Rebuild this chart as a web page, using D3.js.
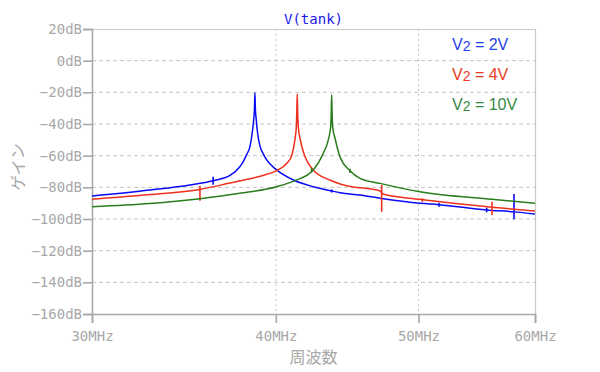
<!DOCTYPE html>
<html>
<head>
<meta charset="utf-8">
<script src="https://cdn.jsdelivr.net/npm/d3@7"></script>
<style>
  body { margin: 0; background: #fff; }
  svg { display: block; }
</style>
</head>
<body>
<svg id="chart" width="600" height="372"></svg>
<script>
// frequency (MHz) and gain (dB)
var blueData = [
  [30, -85.5], [32.85, -81.7], [34.97, -78.5], [36.26, -75.8], [37.23, -72.5],
  [37.81, -67], [38.01, -63.8], [38.20, -59.5], [38.41, -54.3], [38.57, -43.8],
  [38.64, -37], [38.68, -31], [38.71, -20.2], [38.74, -31], [38.79, -37],
  [38.85, -43.8], [39.02, -54], [39.23, -59], [39.43, -62.7], [40.05, -69],
  [41.11, -75.4], [42.41, -79.6], [43.65, -82.3], [44.22, -83.4], [45.63, -84.9],
  [47.08, -86.9], [50.12, -90.1], [51.63, -91], [55.63, -94.3], [58.06, -95.5],
  [60, -96.9]
];
var redData = [
  [30, -87.6], [32.85, -84.6], [35.52, -81.3], [37.23, -77.3],
  [38.41, -74.6], [39.20, -72.5], [40.05, -69.4], [40.72, -64.5], [41.00, -60],
  [41.20, -50.5], [41.30, -42], [41.33, -33], [41.36, -21], [41.39, -33],
  [41.43, -42], [41.54, -49], [41.87, -60.7], [42.41, -69], [43.53, -75.4],
  [45.15, -79.8], [45.63, -80.3], [47.08, -82.3], [47.3, -84.2], [50.12, -87.6],
  [56.1, -92.6], [60, -95]
];
var greenData = [
  [30, -92.2], [32.85, -90.2], [35.52, -87.2], [37.81, -83.8], [40.05, -79.6],
  [41.21, -75.8], [42.41, -69], [43.08, -58.5], [43.42, -50], [43.58, -42],
  [43.62, -33], [43.65, -21.5], [43.68, -33], [43.72, -42], [43.88, -49],
  [44.22, -60.7], [44.92, -69.5], [45.63, -74.3], [47.08, -77.5], [50.12, -82.8],
  [56.1, -87.6], [60, -90.1]
];

// glitch marks on the traces: [MHz, top dB, bottom dB]
var blueSpikes = [[36.26, -73.3, -78.3], [43.65, -81.3, -83.3], [51.63, -89.8, -92.2], [55.63, -92.8, -95.8], [58.06, -84.2, -100.2]];
var redSpikes = [[35.52, -79.2, -88.5], [47.2, -78.5, -95.4], [50.3, -87, -89.2], [56.1, -89.1, -97.5]];
var greenSpikes = [[42.3, -67.5, -70.5], [44.92, -68.3, -71]];

var legendValues = ["2V", "4V", "10V"];
var xTicks = [30, 40, 50, 60];
var yTicks = [20, 0, -20, -40, -60, -80, -100, -120, -140, -160];

var series = [
  { data: blueData, spikes: blueSpikes, line: "#0a0af5", text: "#1f3fe6" },
  { data: redData, spikes: redSpikes, line: "#f0301e", text: "#ea3a24" },
  { data: greenData, spikes: greenSpikes, line: "#2a7d1c", text: "#348a45" }
];

var margin = { top: 29, right: 65, bottom: 58, left: 92 };
var w = 600 - margin.left - margin.right;
var h = 372 - margin.top - margin.bottom;

var svg = d3.select("#chart");
var g = svg.append("g").attr("transform", "translate(" + margin.left + "," + margin.top + ")");

var xScale = d3.scaleLog().domain([30, 60]).range([0, w]);
var yScale = d3.scaleLinear().domain([-160, 20]).range([h, 0]);

var gray = "#a8a8a8";
var mono = "'DejaVu Sans Mono', monospace";

// grid
g.selectAll(".hgrid")
  .data(yTicks.filter(function (d) { return d > -160 && d < 20; }))
  .enter().append("line")
  .attr("x1", 0).attr("x2", w)
  .attr("y1", function (d) { return yScale(d); })
  .attr("y2", function (d) { return yScale(d); })
  .attr("stroke", "#c4c4c4").attr("stroke-width", 1)
  .attr("stroke-dasharray", "4,3");

g.selectAll(".vgrid")
  .data([40, 50])
  .enter().append("line")
  .attr("x1", function (d) { return xScale(d); })
  .attr("x2", function (d) { return xScale(d); })
  .attr("y1", 0).attr("y2", h)
  .attr("stroke", "#c4c4c4").attr("stroke-width", 1)
  .attr("stroke-dasharray", "2,3");

// top and right border
g.append("path")
  .attr("d", "M0,0.5H" + (w + 0.5) + "V" + h)
  .attr("fill", "none").attr("stroke", "#c8c8c8").attr("stroke-width", 1.2);

// axes
var xAxis = g.append("g")
  .attr("transform", "translate(0," + h + ")")
  .call(d3.axisBottom(xScale).tickValues(xTicks).tickSize(9).tickPadding(8)
    .tickFormat(function (d) { return d + "MHz"; }));

var yAxis = g.append("g")
  .call(d3.axisLeft(yScale).tickValues(yTicks).tickSize(9).tickPadding(1)
    .tickFormat(function (d) { return (d < 0 ? "\u2212" + (-d) : d) + "dB"; }));

[xAxis, yAxis].forEach(function (ax) {
  ax.select(".domain").attr("stroke", gray).attr("stroke-width", 1.6);
  ax.selectAll(".tick line").attr("stroke", gray).attr("stroke-width", 1.6);
  ax.selectAll(".tick text").attr("fill", gray).attr("font-family", mono).attr("font-size", "14px");
});

// traces
var line = d3.line()
  .x(function (d) { return xScale(d[0]); })
  .y(function (d) { return yScale(d[1]); })
  .curve(d3.curveMonotoneX);

svg.append("clipPath").attr("id", "clip")
  .append("rect").attr("width", w).attr("height", h);

var plot = g.append("g").attr("clip-path", "url(#clip)");

series.forEach(function (s) {
  plot.append("path")
    .datum(s.data)
    .attr("d", line)
    .attr("fill", "none")
    .attr("stroke", s.line)
    .attr("stroke-width", 1.5);

  plot.selectAll(null)
    .data(s.spikes)
    .enter().append("line")
    .attr("x1", function (d) { return xScale(d[0]); })
    .attr("x2", function (d) { return xScale(d[0]); })
    .attr("y1", function (d) { return yScale(d[1]); })
    .attr("y2", function (d) { return yScale(d[2]); })
    .attr("stroke", s.line)
    .attr("stroke-width", 1.6);
});

// title
svg.append("text")
  .attr("x", margin.left + w / 2)
  .attr("y", 24)
  .attr("text-anchor", "middle")
  .attr("font-family", mono)
  .attr("font-size", "14px")
  .attr("fill", "#1a1ae6")
  .text("V(tank)");

// legend
series.forEach(function (s, i) {
  var t = svg.append("text")
    .attr("x", 452)
    .attr("y", 50 + i * 30)
    .attr("font-family", "'Liberation Sans', Arial, sans-serif")
    .attr("font-size", "16px")
    .attr("fill", s.text);
  t.append("tspan").text("V");
  t.append("tspan").attr("font-size", "14px").attr("dy", 1).text("2");
  t.append("tspan").attr("dy", -1).text(" = " + legendValues[i]);
});

// axis titles
svg.append("text")
  .attr("x", margin.left + w / 2)
  .attr("y", 363)
  .attr("text-anchor", "middle")
  .attr("font-family", "'Noto Sans CJK JP', sans-serif")
  .attr("font-size", "16px")
  .attr("fill", gray)
  .text("周波数");

svg.append("text")
  .attr("transform", "translate(24,167) rotate(-90)")
  .attr("text-anchor", "middle")
  .attr("font-family", "'Noto Sans CJK JP', sans-serif")
  .attr("font-size", "16px")
  .attr("fill", gray)
  .text("ゲイン");
</script>
</body>
</html>
